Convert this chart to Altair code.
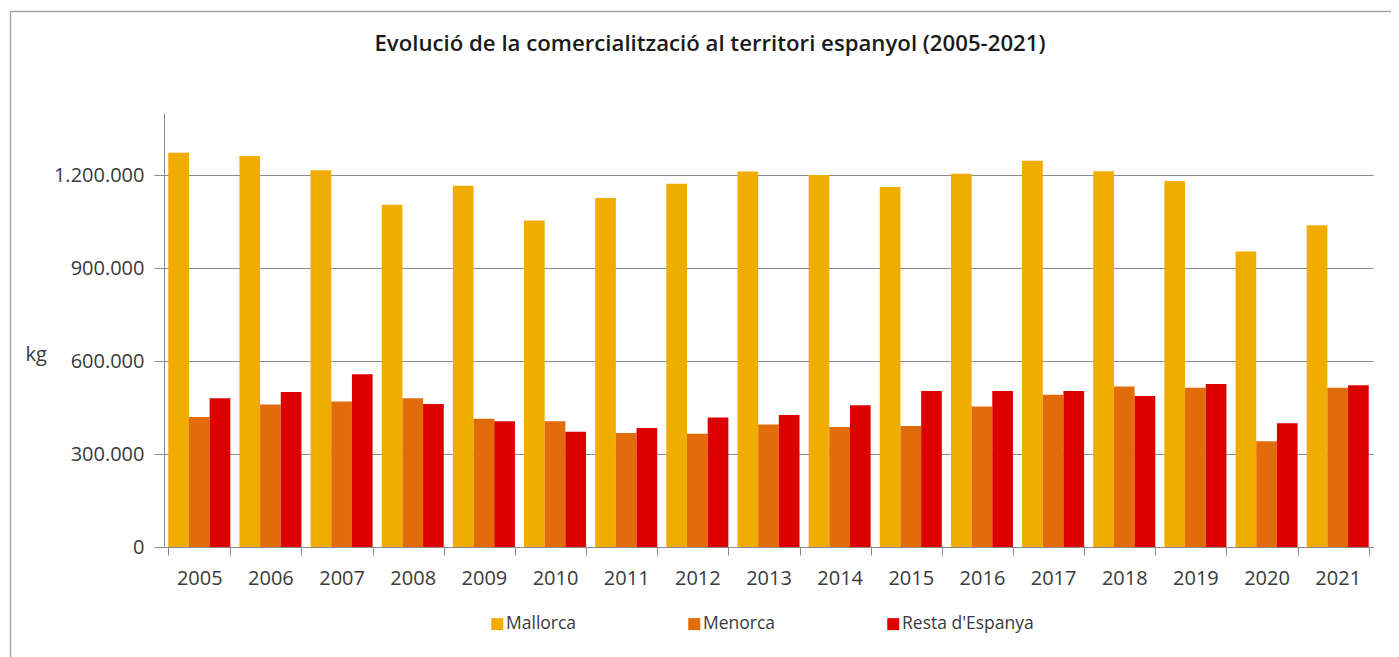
import altair as alt
import pandas as pd

years = ["2005", "2006", "2007", "2008", "2009", "2010", "2011", "2012", "2013",
         "2014", "2015", "2016", "2017", "2018", "2019", "2020", "2021"]
series_names = ["Mallorca", "Menorca", "Resta d'Espanya"]
mallorca = [1272000, 1261000, 1215000, 1104000, 1165000, 1053000, 1126000, 1172000, 1211000,
            1200000, 1161000, 1204000, 1246000, 1212000, 1181000, 953000, 1038000]
menorca = [419000, 460000, 469000, 480000, 414000, 406000, 368000, 365000, 395000,
           387000, 390000, 453000, 491000, 518000, 514000, 341000, 514000]
resta = [480000, 500000, 557000, 461000, 406000, 372000, 384000, 418000, 426000,
         457000, 503000, 503000, 503000, 487000, 526000, 399000, 522000]
colors = ["#F1AC00", "#E36C0A", "#DC0000"]
y_ticks = [0, 300000, 600000, 900000, 1200000]
title_text = "Evolució de la comercialització al territori espanyol (2005-2021)"

rows = []
for name, vals in zip(series_names, [mallorca, menorca, resta]):
    for yr, v in zip(years, vals):
        rows.append({"any": yr, "serie": name, "kg": v})
df = pd.DataFrame(rows)

FONT = "Open Sans"
TXT = "#3a3a3a"
GRID = "#8a8a8a"

bars = alt.Chart(df).mark_bar().encode(
    x=alt.X("any:N", sort=years,
            scale=alt.Scale(paddingInner=0.128, paddingOuter=0.06),
            axis=alt.Axis(title=None, labelAngle=0, labelFontSize=20, labelColor=TXT,
                          labelFont=FONT, tickBand="extent", tickSize=8, tickColor=GRID,
                          domainColor=GRID, labelPadding=13, grid=False)),
    xOffset=alt.XOffset("serie:N", sort=series_names,
                        scale=alt.Scale(paddingInner=0, paddingOuter=0)),
    y=alt.Y("kg:Q", scale=alt.Scale(domain=[0, 1400000], nice=False),
            axis=alt.Axis(values=y_ticks, title="kg", titleAngle=0, titleAlign="left",
                          titleBaseline="alphabetic", titleX=-139, titleY=247,
                          titleFontSize=20, titleFontWeight="normal", titleColor=TXT,
                          titleFont=FONT,
                          labelExpr="replace(format(datum.value, ','), /,/g, '.')",
                          labelFontSize=20, labelColor=TXT, labelFont=FONT,
                          grid=True, gridColor=GRID, tickSize=10, tickColor=GRID,
                          domainColor=GRID, labelPadding=10)),
    color=alt.Color("serie:N", sort=series_names,
                    scale=alt.Scale(domain=series_names, range=colors),
                    legend=alt.Legend(title=None, orient="none", legendX=324.5, legendY=502,
                                      direction="horizontal", symbolType="square",
                                      symbolSize=144, symbolStrokeWidth=0,
                                      labelFontSize=17.5, labelFont=FONT, labelColor=TXT,
                                      labelOffset=0, columnPadding=109, padding=0)),
)

frame = alt.Chart(pd.DataFrame({"f": [0]})).mark_rect(
    fill="transparent", stroke="#a6a6a6", strokeWidth=1.5, clip=False
).encode(
    x=alt.value(-153.5), x2=alt.value(1300),
    y=alt.value(-101.5), y2=alt.value(700),
)

chart = alt.layer(frame, bars).properties(
    width=1209, height=434,
    title=alt.TitleParams(title_text, font=FONT, fontSize=22.2, fontWeight=600,
                          color="#1a1a1a", anchor="middle", frame="group",
                          baseline="alphabetic", offset=0, dy=62, dx=-58.5),
    autosize=alt.AutoSizeParams(type="none"),
    padding={"left": 156, "top": 105, "right": 18, "bottom": 110},
).configure_view(stroke=None)

chart.save("out.html", embed_options={"renderer": "svg", "actions": False})
